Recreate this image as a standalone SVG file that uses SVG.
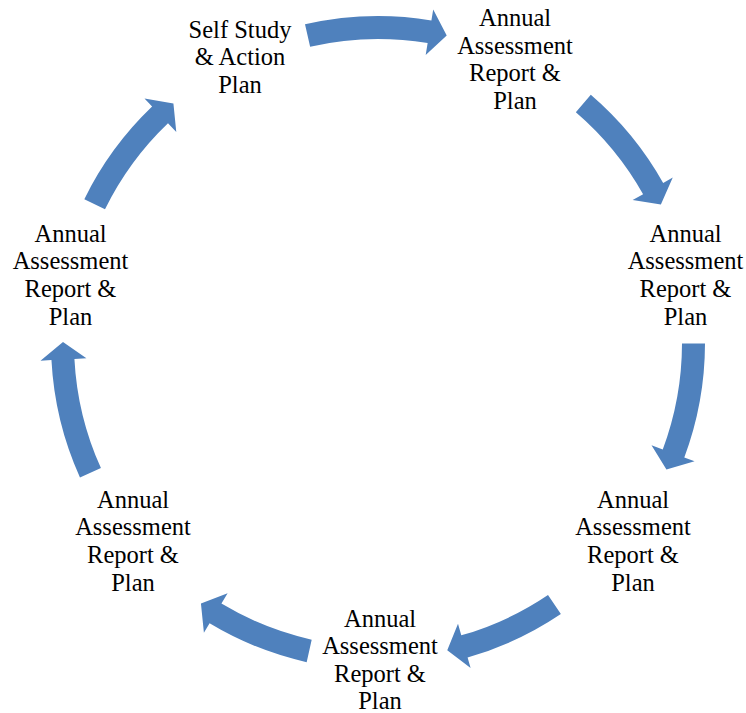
<svg xmlns="http://www.w3.org/2000/svg" width="746" height="713" viewBox="0 0 746 713">
<style>
  .arrow { fill: #4F81BD; stroke: none; }
  .lbl { font-family: 'Liberation Serif', 'DejaVu Serif', serif; font-size: 24.5px; fill: #000; text-anchor: middle; }
</style>
<rect x="0" y="0" width="746" height="713" fill="#ffffff"/>
<g id="connectors">
  <path class="arrow" d="M305.00,24.25 A327,327 0 0 1 431.41,20.39 L433.21,9.54 L446.71,35.59 L425.69,54.92 L427.65,43.08 A304,304 0 0 0 310.13,46.67 Z"/>
  <path class="arrow" d="M590.80,94.72 A327,327 0 0 1 663.17,182.97 L672.76,177.59 L660.88,204.42 L632.64,200.10 L643.11,194.23 A304,304 0 0 0 575.83,112.18 Z"/>
  <path class="arrow" d="M705.00,343.57 A327,327 0 0 1 684.29,457.52 L694.59,461.37 L666.43,469.61 L651.51,445.26 L662.75,449.46 A304,304 0 0 0 682.00,343.53 Z"/>
  <path class="arrow" d="M560.86,614.10 A327,327 0 0 1 467.59,657.49 L470.60,668.07 L447.25,650.29 L458.00,623.83 L461.28,635.37 A304,304 0 0 0 548.00,595.03 Z"/>
  <path class="arrow" d="M306.67,662.13 A327,327 0 0 1 209.58,623.29 L203.92,632.72 L200.94,603.53 L227.61,593.29 L221.43,603.58 A304,304 0 0 0 311.69,639.68 Z"/>
  <path class="arrow" d="M79.97,477.56 A327,327 0 0 1 51.45,360.11 L40.46,360.69 L63.00,341.90 L86.40,358.28 L74.42,358.91 A304,304 0 0 0 100.93,468.10 Z"/>
  <path class="arrow" d="M84.34,199.14 A327,327 0 0 1 152.10,106.57 L144.50,98.62 L173.42,103.47 L176.28,131.88 L167.99,123.20 A304,304 0 0 0 105.00,209.26 Z"/>
</g>
<g id="node-self-study">
  <text class="lbl" font-family="Liberation Serif, serif"><tspan x="240" y="37.5">Self Study</tspan><tspan x="240" y="65">&amp; Action</tspan><tspan x="240" y="92.5">Plan</tspan></text>
</g>
<g id="node-annual-1">
  <text class="lbl" font-family="Liberation Serif, serif"><tspan x="515" y="26">Annual</tspan><tspan x="515" y="53.7">Assessment</tspan><tspan x="515" y="81.4">Report &amp;</tspan><tspan x="515" y="109">Plan</tspan></text>
</g>
<g id="node-annual-2">
  <text class="lbl" font-family="Liberation Serif, serif"><tspan x="685.5" y="241.7">Annual</tspan><tspan x="685.5" y="269.4">Assessment</tspan><tspan x="685.5" y="297.1">Report &amp;</tspan><tspan x="685.5" y="324.8">Plan</tspan></text>
</g>
<g id="node-annual-3">
  <text class="lbl" font-family="Liberation Serif, serif"><tspan x="633" y="507.5">Annual</tspan><tspan x="633" y="535.2">Assessment</tspan><tspan x="633" y="562.9">Report &amp;</tspan><tspan x="633" y="590.6">Plan</tspan></text>
</g>
<g id="node-annual-4">
  <text class="lbl" font-family="Liberation Serif, serif"><tspan x="380" y="626.5">Annual</tspan><tspan x="380" y="654">Assessment</tspan><tspan x="380" y="681.5">Report &amp;</tspan><tspan x="380" y="708.5">Plan</tspan></text>
</g>
<g id="node-annual-5">
  <text class="lbl" font-family="Liberation Serif, serif"><tspan x="133" y="507.5">Annual</tspan><tspan x="133" y="535.2">Assessment</tspan><tspan x="133" y="562.9">Report &amp;</tspan><tspan x="133" y="590.6">Plan</tspan></text>
</g>
<g id="node-annual-6">
  <text class="lbl" font-family="Liberation Serif, serif"><tspan x="70.5" y="241.7">Annual</tspan><tspan x="70.5" y="269.4">Assessment</tspan><tspan x="70.5" y="297.1">Report &amp;</tspan><tspan x="70.5" y="324.8">Plan</tspan></text>
</g>
</svg>
